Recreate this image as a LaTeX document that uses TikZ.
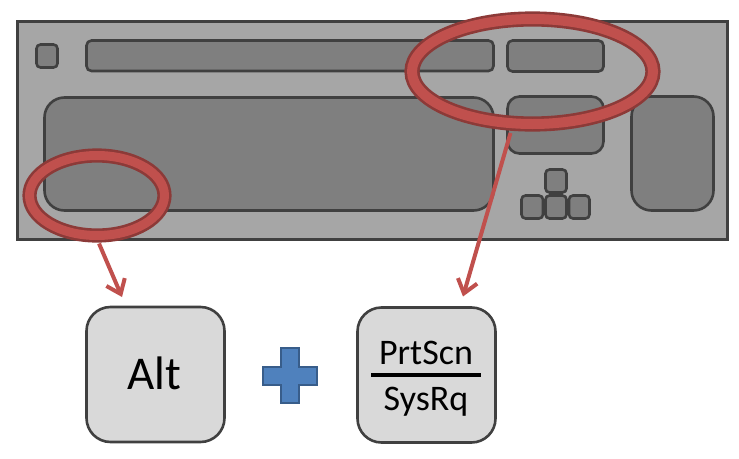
\documentclass[tikz,border=0pt]{standalone}
\usepackage{fontspec}
\setmainfont{Carlito}
\usetikzlibrary{arrows.meta,calc,shapes.geometric}
\definecolor{edgegray}{HTML}{404040}
\definecolor{casegray}{HTML}{A6A6A6}
\definecolor{blockgray}{HTML}{7F7F7F}
\definecolor{keygray}{HTML}{D9D9D9}
\definecolor{ringred}{HTML}{C0504D}
\definecolor{ringdark}{HTML}{8C3A38}
\definecolor{plusblue}{HTML}{4F81BD}
\definecolor{plusedge}{HTML}{385D8A}
\tikzset{
  x=1pt,y=-1pt,
  casebox/.style={draw=edgegray,fill=casegray,line width=3pt,rectangle,inner sep=0pt,outer sep=0pt},
  blockbox/.style={draw=edgegray,fill=blockgray,line width=2.6pt,rectangle,inner sep=0pt,outer sep=0pt},
  keybox/.style={draw=edgegray,fill=keygray,line width=2.6pt,rectangle,rounded corners=24pt,inner sep=0pt,outer sep=0pt,minimum width=138pt,minimum height=135pt},
  ring/.style={ellipse,draw=ringdark,line width=2.6pt,double=ringred,inner sep=0pt,outer sep=7pt},
  pointer/.style={draw=ringred,line width=4pt,-{Straight Barb[length=13pt,width=20pt,line width=4pt]}},
  keylabel/.style={anchor=base,inner sep=0pt,text=black}
}
\newcommand{\blk}[6]{\node[blockbox,rounded corners=#6,minimum width=#4pt-#2pt,minimum height=#5pt-#3pt] (#1) at ({(#2+#4)/2},{(#3+#5)/2}) {};}
\begin{document}
\begin{tikzpicture}
\useasboundingbox (0,0) rectangle (739,458);
\node[casebox,minimum width=710pt,minimum height=218.5pt] (kbcase) at (372.5,130.5) {};
\blk{esc}{36.5}{44.5}{57.5}{67.5}{4pt}
\blk{fnbar}{86.5}{40.5}{493.5}{71}{5pt}
\blk{sysbar}{507.5}{40.5}{603.5}{71.5}{5pt}
\blk{mainblock}{44.5}{97.5}{493.5}{210.5}{20pt}
\blk{navblock}{507.5}{96.5}{603.5}{153.5}{12pt}
\blk{numblock}{631.5}{96.5}{713.5}{210.5}{20pt}
\blk{arrowup}{545.5}{169.5}{566.5}{192.5}{4pt}
\blk{arrowleft}{521.5}{195.5}{543}{218.5}{4pt}
\blk{arrowdown}{545.5}{195.5}{566.5}{218.5}{4pt}
\blk{arrowright}{569}{195.5}{589.5}{218.5}{4pt}
\node[keybox] (altkey) at (155.5,374.5) {};
\node[keybox] (prtkey) at (426.5,375) {};
\node[keylabel,font=\fontsize{47}{47}\selectfont] (alttext) at (154.5,389) {Alt};
\node[keylabel,font=\fontsize{36}{36}\selectfont] (prttext) at (426,364) {PrtScn};
\node[keylabel,font=\fontsize{36}{36}\selectfont] (systext) at (426,410) {SysRq};
\coordinate (rulel) at (371,375);
\coordinate (ruler) at (481,375);
\draw[black,line width=3.5pt] (rulel) -- (ruler);
\draw[draw=plusedge,fill=plusblue,line width=2.6pt,line join=miter]
  (281,348) -- (299,348) -- (299,367) -- (317,367) -- (317,385) -- (299,385) -- (299,403) -- (281,403) -- (281,385) -- (263,385) -- (263,367) -- (281,367) -- cycle;
\node[ring,double distance=10pt,minimum width=241pt,minimum height=105pt] (bigring) at (532.5,71.5) {};
\node[ring,double distance=9pt,minimum width=135pt,minimum height=80pt] (smallring) at (97,195.5) {};
\draw[pointer] (smallring.south) ++(2pt,-1pt) -- ([shift={(-33.5pt,10pt)}]altkey.north);
\draw[pointer] (bigring.south) ++(-22pt,-2pt) -- ([shift={(36.5pt,11pt)}]prtkey.north);
\end{tikzpicture}
\end{document}
